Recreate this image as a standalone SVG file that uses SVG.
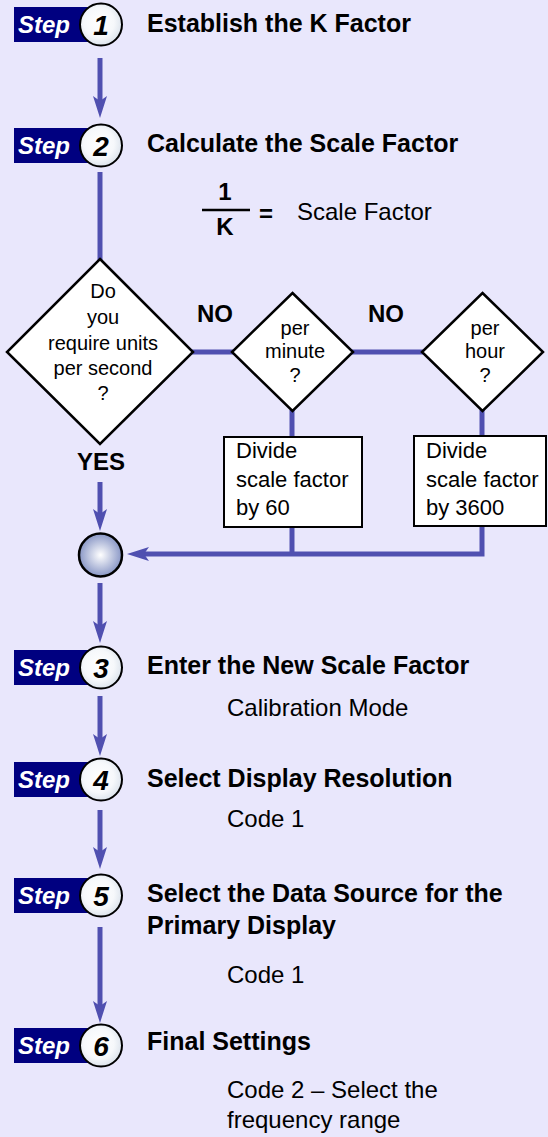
<svg xmlns="http://www.w3.org/2000/svg" width="548" height="1137" viewBox="0 0 548 1137">
<style>
.bg{fill:#e9e7fc}
.badge{fill:#000080}
.stepw{font-family:"Liberation Sans",Arial,sans-serif;font-weight:bold;font-style:italic;font-size:24px;fill:#fff}
.num{font-family:"Liberation Sans",Arial,sans-serif;font-weight:bold;font-style:italic;font-size:28px;fill:#000;text-anchor:middle}
.circ{fill:url(#cg);stroke:#000;stroke-width:2}
.title{font-family:"Liberation Sans",Arial,sans-serif;font-weight:bold;font-size:25px;fill:#000}
.sub{font-family:"Liberation Sans",Arial,sans-serif;font-size:24px;fill:#000}
.dtxt{font-family:"Liberation Sans",Arial,sans-serif;font-size:20px;fill:#000;text-anchor:middle}
.btxt{font-family:"Liberation Sans",Arial,sans-serif;font-size:22px;fill:#000}
.lbl{font-family:"Liberation Sans",Arial,sans-serif;font-weight:bold;font-size:24px;fill:#000}
.shape{fill:#fff;stroke:#000;stroke-width:2.5}
.conn{fill:none;stroke:#5050b0;stroke-width:5}
.arr{marker-end:url(#ah)}
</style>
<defs>
<radialGradient id="cg" cx="0.45" cy="0.45" r="0.6">
<stop offset="0" stop-color="#ffffff"/>
<stop offset="0.6" stop-color="#f6f8fb"/>
<stop offset="1" stop-color="#d8e0ea"/>
</radialGradient>
<radialGradient id="jg" cx="0.5" cy="0.5" r="0.55">
<stop offset="0" stop-color="#ffffff"/>
<stop offset="1" stop-color="#7d8cc0"/>
</radialGradient>
<marker id="ah" markerUnits="userSpaceOnUse" markerWidth="22" markerHeight="14" viewBox="0 0 22 14" refX="5" refY="7" orient="auto">
<path d="M0,0 L22,7 L0,14 L5,7 Z" fill="#5050b0"/>
</marker>
</defs>
<rect class="bg" x="0" y="0" width="548" height="1137"/>

<g id="connectors">
<path class="conn arr" d="M100,58 V101"/>
<path class="conn" d="M100,172 V260"/>
<path class="conn" d="M192,352 H233"/>
<path class="conn" d="M352,352 H423"/>
<path class="conn" d="M292,410 V438"/>
<path class="conn" d="M482,410 V437"/>
<path class="conn" d="M292,526 V554"/>
<path class="conn arr" d="M482,525 V554 H144"/>
<path class="conn arr" d="M100,482 V514"/>
<path class="conn arr" d="M100,583 V626"/>
<path class="conn arr" d="M100,696 V739"/>
<path class="conn arr" d="M100,810 V852"/>
<path class="conn arr" d="M100,927 V1006"/>
</g>

<g id="step1">
<rect class="badge" x="14" y="7" width="76" height="35"/>
<text class="stepw" x="18" y="33">Step</text>
<circle class="circ" cx="101" cy="24.5" r="21"/>
<text class="num" x="101" y="34.5">1</text>
<text class="title" x="147" y="32">Establish the K Factor</text>
</g>

<g id="step2">
<rect class="badge" x="14" y="128" width="76" height="35"/>
<text class="stepw" x="18" y="154">Step</text>
<circle class="circ" cx="101" cy="145.5" r="21"/>
<text class="num" x="101" y="155.5">2</text>
<text class="title" x="147" y="152">Calculate the Scale Factor</text>
</g>

<g id="formula">
<text class="lbl" x="225" y="200" text-anchor="middle">1</text>
<line x1="202" y1="210" x2="250" y2="210" stroke="#000" stroke-width="2.5"/>
<text class="lbl" x="225" y="235" text-anchor="middle">K</text>
<text class="lbl" x="259" y="222">=</text>
<text class="sub" x="297" y="220">Scale Factor</text>
</g>

<g id="decision-second">
<polygon class="shape" points="100,259 193,352 100,444 7,352"/>
<text class="dtxt" x="103" y="298">Do</text>
<text class="dtxt" x="103" y="324">you</text>
<text class="dtxt" x="103" y="350">require units</text>
<text class="dtxt" x="103" y="375">per second</text>
<text class="dtxt" x="103" y="400">?</text>
</g>

<g id="label-no1"><text class="lbl" x="197" y="322">NO</text></g>
<g id="label-no2"><text class="lbl" x="368" y="322">NO</text></g>
<g id="label-yes"><text class="lbl" x="101" y="470" text-anchor="middle">YES</text></g>

<g id="decision-minute">
<polygon class="shape" points="292.5,293 353,352 292.5,411 232,352"/>
<text class="dtxt" x="295" y="335">per</text>
<text class="dtxt" x="295" y="358">minute</text>
<text class="dtxt" x="295" y="382">?</text>
</g>

<g id="decision-hour">
<polygon class="shape" points="482.5,293 543,352 482.5,411 422,352"/>
<text class="dtxt" x="485" y="335">per</text>
<text class="dtxt" x="485" y="358">hour</text>
<text class="dtxt" x="485" y="382">?</text>
</g>

<g id="box-60">
<rect x="224" y="437" width="138" height="90" fill="#fff" stroke="#000" stroke-width="2"/>
<text class="btxt" x="236" y="458">Divide</text>
<text class="btxt" x="236" y="487">scale factor</text>
<text class="btxt" x="236" y="515">by 60</text>
</g>

<g id="box-3600">
<rect x="414" y="436" width="132" height="90" fill="#fff" stroke="#000" stroke-width="2"/>
<text class="btxt" x="426" y="458">Divide</text>
<text class="btxt" x="426" y="487">scale factor</text>
<text class="btxt" x="426" y="515">by 3600</text>
</g>

<g id="junction">
<circle cx="100.5" cy="555" r="21.5" fill="url(#jg)" stroke="#000" stroke-width="2.5"/>
</g>

<g id="step3">
<rect class="badge" x="14" y="650" width="76" height="35"/>
<text class="stepw" x="18" y="676">Step</text>
<circle class="circ" cx="101" cy="667.5" r="21"/>
<text class="num" x="101" y="677.5">3</text>
<text class="title" x="147" y="674">Enter the New Scale Factor</text>
<text class="sub" x="227" y="716">Calibration Mode</text>
</g>

<g id="step4">
<rect class="badge" x="14" y="762" width="76" height="35"/>
<text class="stepw" x="18" y="788">Step</text>
<circle class="circ" cx="101" cy="779.5" r="21"/>
<text class="num" x="101" y="789.5">4</text>
<text class="title" x="147" y="787">Select Display Resolution</text>
<text class="sub" x="227" y="827">Code 1</text>
</g>

<g id="step5">
<rect class="badge" x="14" y="878" width="76" height="35"/>
<text class="stepw" x="18" y="904">Step</text>
<circle class="circ" cx="101" cy="895.5" r="21"/>
<text class="num" x="101" y="905.5">5</text>
<text class="title" x="147" y="902">Select the Data Source for the</text>
<text class="title" x="147" y="934">Primary Display</text>
<text class="sub" x="227" y="983">Code 1</text>
</g>

<g id="step6">
<rect class="badge" x="14" y="1028" width="76" height="35"/>
<text class="stepw" x="18" y="1054">Step</text>
<circle class="circ" cx="101" cy="1045.5" r="21"/>
<text class="num" x="101" y="1055.5">6</text>
<text class="title" x="147" y="1050">Final Settings</text>
<text class="sub" x="227" y="1098">Code 2 – Select the</text>
<text class="sub" x="227" y="1128">frequency range</text>
</g>
</svg>
